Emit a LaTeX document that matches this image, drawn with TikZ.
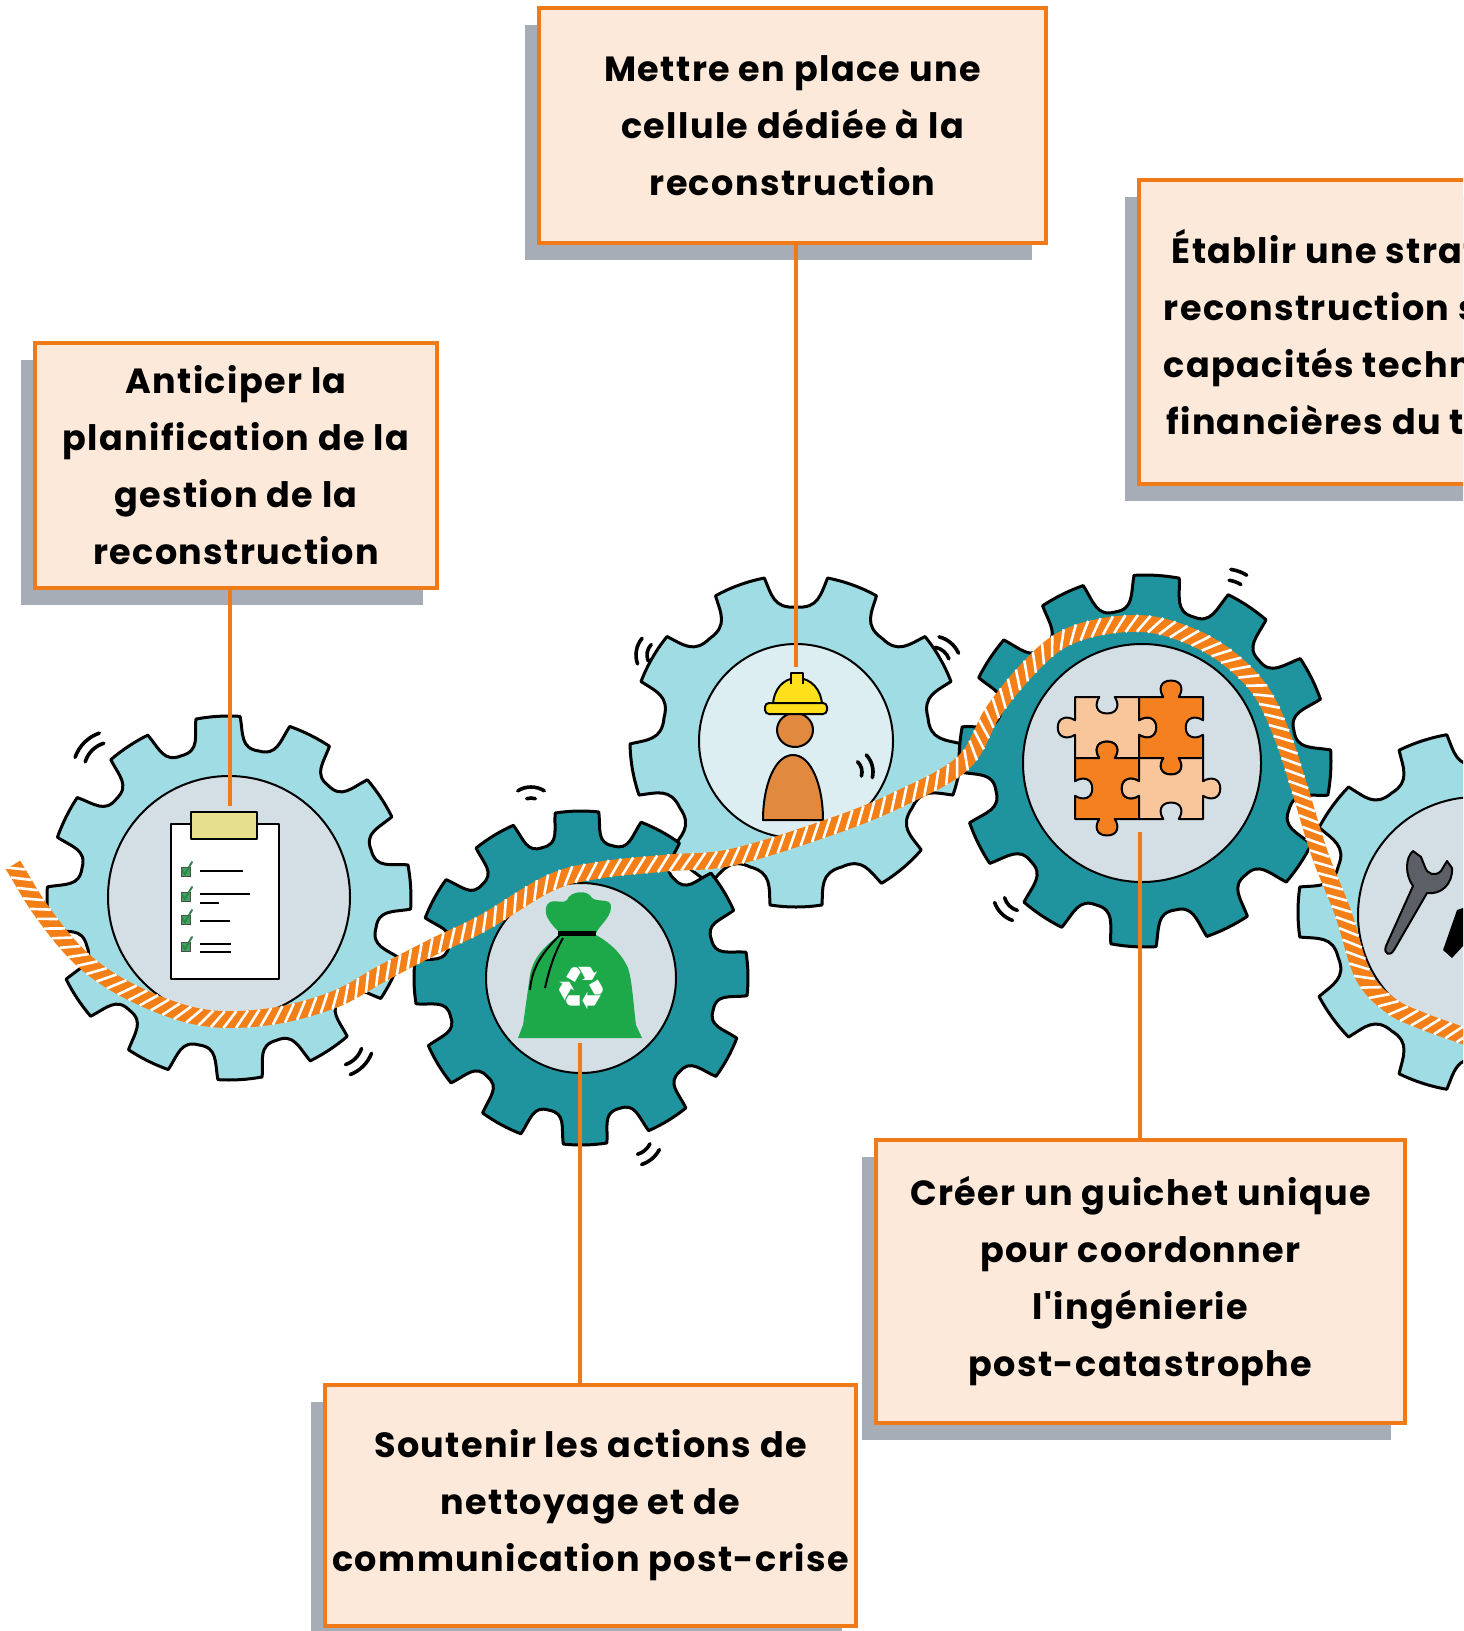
\documentclass[tikz,border=0pt]{standalone}
\usepackage{fontspec}
\usetikzlibrary{calc,shadows,decorations.markings}
\newfontfamily\boxfont{Poppins}[LetterSpace=4]
\newfontfamily\symfont{DejaVu Sans}

\definecolor{boxorange}{HTML}{F07A17}
\definecolor{boxfill}{HTML}{FCE9DA}
\definecolor{shadowgrey}{HTML}{A7ADB6}
\definecolor{gearlight}{HTML}{9FDCE3}
\definecolor{geardark}{HTML}{1F939E}
\definecolor{hubgrey}{HTML}{D3DFE4}
\definecolor{hublight}{HTML}{DCEEF1}
\definecolor{ropeorange}{HTML}{F57F17}
\definecolor{clipyellow}{HTML}{E6E08C}
\definecolor{checkgreen}{HTML}{3FA55C}
\definecolor{helmetyellow}{HTML}{FFE01A}
\definecolor{skin}{HTML}{E0893F}
\definecolor{baggreen}{HTML}{1DA84A}
\definecolor{peach}{HTML}{F9C59A}
\definecolor{puzzleorange}{HTML}{F5801F}
\definecolor{wrenchgrey}{HTML}{5C5F66}

\tikzset{
  textbox/.style={draw=boxorange, line width=2pt, fill=boxfill, align=center,
    inner sep=0pt, text=black,
    font=\boxfont\bfseries\fontsize{17.5}{28.5}\selectfont,
    general shadow={fill=shadowgrey, shadow xshift=-7pt, shadow yshift=-8.5pt}},
  link/.style={draw=boxorange, line width=1.8pt},
  gearrim/.style={draw=black, line width=1.5pt, line join=round},
  hub/.style={draw=black, line width=1pt},
  wobble/.style={draw=black, line width=1.8pt, line cap=round},
  outlined/.style={draw=black, line width=1pt, line join=round},
  rope/.style={draw=ropeorange, line width=8.4pt,
    postaction={decorate, decoration={markings,
      mark=between positions 2pt and -2pt step 6pt with
        {\draw[white, line width=1.3pt] (-3.2pt,-4.2pt) -- (3.2pt,4.2pt);}}}},
}

% gear outline: fill, centre, tip radius, gap radius, teeth, first tooth angle, half tooth angle, name
\newcommand{\drawgear}[8]{%
  \pgfmathsetmacro{\gstep}{360/#5}%
  \pgfmathtruncatemacro{\glast}{#5-1}%
  \begin{scope}[shift={#2}]
    \coordinate (#8) at (0,0);
    \path[gearrim, fill=#1] ({#6-#7}:#3)
      \foreach \gi in {0,...,\glast}{
        arc[start angle={#6+\gi*\gstep-#7}, end angle={#6+\gi*\gstep+#7}, radius=#3]
        .. controls ({#6+\gi*\gstep+#7+1.5}:{#4+0.45*(#3-#4)}) and ({#6+(\gi+0.5)*\gstep-0.24*\gstep}:#4)
        .. ({#6+(\gi+0.5)*\gstep}:#4)
        .. controls ({#6+(\gi+0.5)*\gstep+0.24*\gstep}:#4) and ({#6+(\gi+1)*\gstep-#7-1.5}:{#4+0.45*(#3-#4)})
        .. ({#6+(\gi+1)*\gstep-#7}:#3)
      } -- cycle;
  \end{scope}}

% motion marks: point, direction, radius, inner half span, outer half span
\newcommand{\wob}[5]{%
  \draw[wobble] #1 ++({#2-#4}:#3) arc[start angle={#2-#4}, end angle={#2+#4}, radius=#3];
  \draw[wobble] #1 ++({#2-#5}:{#3+11}) arc[start angle={#2-#5}, end angle={#2+#5}, radius={#3+11}];}

% puzzle edges on a unit cell (1 = tab out, -1 = tab in)
\newcommand{\pzTop}[1]{-- (0.38,0) .. controls (0.30,{-0.12*(#1)}) and (0.33,{-0.27*(#1)}) .. (0.5,{-0.27*(#1)}) .. controls (0.67,{-0.27*(#1)}) and (0.70,{-0.12*(#1)}) .. (0.62,0) -- (1,0)}
\newcommand{\pzRight}[1]{-- (1,0.38) .. controls ({1+0.12*(#1)},0.30) and ({1+0.27*(#1)},0.33) .. ({1+0.27*(#1)},0.5) .. controls ({1+0.27*(#1)},0.67) and ({1+0.12*(#1)},0.70) .. (1,0.62) -- (1,1)}
\newcommand{\pzBottom}[1]{-- (0.62,1) .. controls (0.70,{1+0.12*(#1)}) and (0.67,{1+0.27*(#1)}) .. (0.5,{1+0.27*(#1)}) .. controls (0.33,{1+0.27*(#1)}) and (0.30,{1+0.12*(#1)}) .. (0.38,1) -- (0,1)}
\newcommand{\pzLeft}[1]{-- (0,0.62) .. controls ({-0.12*(#1)},0.70) and ({-0.27*(#1)},0.67) .. ({-0.27*(#1)},0.5) .. controls ({-0.27*(#1)},0.33) and ({-0.12*(#1)},0.30) .. (0,0.38) -- cycle}

\begin{document}
\begin{tikzpicture}[x=0.5pt, y=-0.5pt]
\useasboundingbox (0,0) rectangle (1463,1631);
\clip (0,0) rectangle (1463,1631);

% ---------- text boxes ----------
\node[textbox, minimum width=201pt, minimum height=122.5pt] (anticiper) at (236,465.5)
  {Anticiper la\\planification de la\\gestion de la\\reconstruction};
\node[textbox, minimum width=253.5pt, minimum height=117.5pt] (cellule) at (792.5,125.5)
  {Mettre en place une\\cellule dédiée à la\\reconstruction};
\node[textbox, minimum width=255pt, minimum height=152pt] (strategie) at (1394,332)
  {Établir une stratégie de\\reconstruction selon les\\capacités techniques et\\financières du territoire};
\node[textbox, minimum width=264.5pt, minimum height=141.5pt] (guichet) at (1140.5,1281.5)
  {Créer un guichet unique\\pour coordonner\\l'ingénierie\\post-catastrophe};
\node[textbox, minimum width=265.5pt, minimum height=120.5pt] (nettoyage) at (590.5,1505.5)
  {Soutenir les actions de\\nettoyage et de\\communication post-crise};

% ---------- gears ----------
\drawgear{gearlight}{(229,898)}{182}{150}{12}{26.5}{7}{g1}
\drawgear{gearlight}{(796,741)}{166}{134}{9}{10}{9}{g3}
\drawgear{gearlight}{(1478,912)}{180}{147}{10}{0}{8}{g5}
\drawgear{geardark}{(581,978)}{167}{136}{12}{28.6}{7.5}{g2}
\drawgear{geardark}{(1145,761)}{186}{152}{12}{3.6}{7}{g4}

\draw[hub, fill=hubgrey] (229,897) circle[radius=121];
\draw[hub, fill=hubgrey] (581,978) circle[radius=95];
\draw[hub, fill=hublight] (796,741) circle[radius=97];
\draw[hub, fill=hubgrey] (1142,763) circle[radius=119];
\draw[hub, fill=hubgrey] (1476,915) circle[radius=118];

% ---------- clipboard ----------
\draw[outlined, fill=white] (171,824) rectangle (279,979);
\draw[outlined, fill=clipyellow] (191,812) rectangle (257,839);
\foreach \cy in {872,897,920,947}{
  \draw[fill=checkgreen, draw=black!70, line width=0.5pt] (181,\cy-5) rectangle (190,\cy+4);
  \draw[draw=checkgreen!80!black, line width=1pt, line cap=round] (182,\cy-2) -- (185,\cy+2) -- (192,\cy-10);
}
\draw[line width=1pt] (200,871) -- (243,871);
\draw[line width=1pt] (200,894) -- (250,894);
\draw[line width=1pt] (200,903) -- (219,903);
\draw[line width=1pt] (200,921) -- (230,921);
\draw[line width=1pt] (200,944) -- (231,944);
\draw[line width=1pt] (200,952) -- (231,952);

% ---------- worker ----------
\draw[outlined, fill=skin] (763,820) .. controls (763,785) and (775,755) .. (793,755)
  .. controls (811,755) and (823,785) .. (823,820) -- cycle;
\draw[outlined, fill=skin] (795,730) ellipse[x radius=18, y radius=17];
\draw[outlined, fill=helmetyellow] (773,706) .. controls (773,690) and (783,678) .. (797,678)
  .. controls (811,678) and (822,690) .. (822,706) -- cycle;
\draw[outlined, fill=helmetyellow, rounded corners=2pt] (765,703) rectangle (827,714);
\draw[outlined, fill=helmetyellow] (791,684) -- (791,673) -- (803,673) -- (803,684);

% ---------- recycling bag ----------
\fill[baggreen] (560,935) .. controls (545,945) and (533,958) .. (530,975) -- (523,1025) -- (518,1038)
  -- (642,1038) -- (636,1025) .. controls (633,1000) and (632,980) .. (628,968)
  .. controls (620,950) and (605,940) .. (596,935) -- cycle;
\fill[baggreen] (560,933) .. controls (552,925) and (542,915) .. (547,905)
  .. controls (552,897) and (562,905) .. (567,900) .. controls (570,891) and (588,889) .. (592,898)
  .. controls (598,903) and (612,897) .. (611,908) .. controls (610,918) and (600,925) .. (596,933) -- cycle;
\draw[line width=2.5pt] (558,933) -- (596,933);
\draw[line width=1pt] (560,935) .. controls (545,950) and (532,965) .. (530,990);
\draw[line width=1pt] (563,938) .. controls (553,955) and (548,975) .. (545,988);
\node[text=white, inner sep=0pt, font=\symfont\fontsize{30}{30}\selectfont] (recycle) at (581,988) {\char"267B};

% ---------- puzzle ----------
\begin{scope}[shift={(1075,697)}, xscale=64, yscale=61]
  \draw[outlined, fill=peach] (0,0) \pzTop{-1} \pzRight{1} \pzBottom{-1} \pzLeft{1};
\end{scope}
\begin{scope}[shift={(1139,697)}, xscale=64, yscale=61]
  \draw[outlined, fill=puzzleorange] (0,0) \pzTop{1} \pzRight{-1} \pzBottom{1} \pzLeft{-1};
\end{scope}
\begin{scope}[shift={(1075,758)}, xscale=64, yscale=61]
  \draw[outlined, fill=puzzleorange] (0,0) \pzTop{1} \pzRight{-1} \pzBottom{1} \pzLeft{-1};
\end{scope}
\begin{scope}[shift={(1139,758)}, xscale=64, yscale=61]
  \draw[outlined, fill=peach] (0,0) \pzTop{-1} \pzRight{1} \pzBottom{-1} \pzLeft{1};
\end{scope}

% ---------- tools ----------
\draw[outlined, fill=wrenchgrey] (1413,851) .. controls (1405,858) and (1405,875) .. (1413,886)
  -- (1386,946) .. controls (1383,954) and (1390,957) .. (1394,950) -- (1427,893)
  .. controls (1441,895) and (1453,884) .. (1452,868) -- (1447,861) -- (1441,871)
  .. controls (1435,877) and (1427,874) .. (1425,867) -- (1421,857) -- cycle;
\fill[black] (1443,950) -- (1457,910) -- (1463,908) -- (1463,946) -- (1452,958) -- cycle;

% ---------- connectors ----------
\coordinate (clipTop) at (230,806);
\coordinate (helmetTop) at (796,667);
\coordinate (bagFoot) at (580,1043);
\coordinate (puzzleFoot) at (1140,832);
\draw[link] (anticiper.south -| clipTop) -- (clipTop);
\draw[link] (cellule.south -| helmetTop) -- (helmetTop);
\draw[link] (bagFoot) -- (nettoyage.north -| bagFoot);
\draw[link] (puzzleFoot) -- (guichet.north -| puzzleFoot);

% ---------- rope (Catmull-Rom through the points r1..r33) ----------
\coordinate (r0) at (-17,817);
\coordinate (r1) at (13,865);
\coordinate (r2) at (43,913);
\coordinate (r3) at (83,960);
\coordinate (r4) at (133,993);
\coordinate (r5) at (200,1017);
\coordinate (r6) at (267,1017);
\coordinate (r7) at (333,1000);
\coordinate (r8) at (383,973);
\coordinate (r9) at (433,947);
\coordinate (r10) at (483,923);
\coordinate (r11) at (550,883);
\coordinate (r12) at (600,870);
\coordinate (r13) at (667,863);
\coordinate (r14) at (733,857);
\coordinate (r15) at (830,827);
\coordinate (r16) at (897,800);
\coordinate (r17) at (963,763);
\coordinate (r18) at (993,712);
\coordinate (r19) at (1027,670);
\coordinate (r20) at (1060,641);
\coordinate (r21) at (1100,627);
\coordinate (r22) at (1147,624);
\coordinate (r23) at (1190,636);
\coordinate (r24) at (1227,657);
\coordinate (r25) at (1260,690);
\coordinate (r26) at (1282,735);
\coordinate (r27) at (1300,790);
\coordinate (r28) at (1320,855);
\coordinate (r29) at (1343,913);
\coordinate (r30) at (1363,975);
\coordinate (r31) at (1390,1005);
\coordinate (r32) at (1420,1020);
\coordinate (r33) at (1470,1038);
\coordinate (r34) at (1520,1056);
\draw[rope] (r1)
  \foreach \i [evaluate=\i as \h using int(\i-1), evaluate=\i as \j using int(\i+1),
               evaluate=\i as \k using int(\i+2)] in {1,...,32}
  { .. controls ($(r\i)+0.1667*(r\j)-0.1667*(r\h)$) and ($(r\j)-0.1667*(r\k)+0.1667*(r\i)$) .. (r\j) };

% ---------- motion marks ----------
\wob{(112,770)}{225}{28}{28}{26}
\wob{(337,1040)}{45}{26}{26}{24}
\wob{(531,812)}{270}{14}{18}{32}
\wob{(632,1135)}{50}{20}{24}{22}
\wob{(662,655)}{190}{15}{34}{30}
\wob{(932,665)}{310}{18}{30}{26}
\wob{(848,772)}{345}{14}{32}{28}
\wob{(1225,610)}{290}{30}{12}{12}
\wob{(1022,893)}{135}{18}{30}{26}
\end{tikzpicture}
\end{document}
